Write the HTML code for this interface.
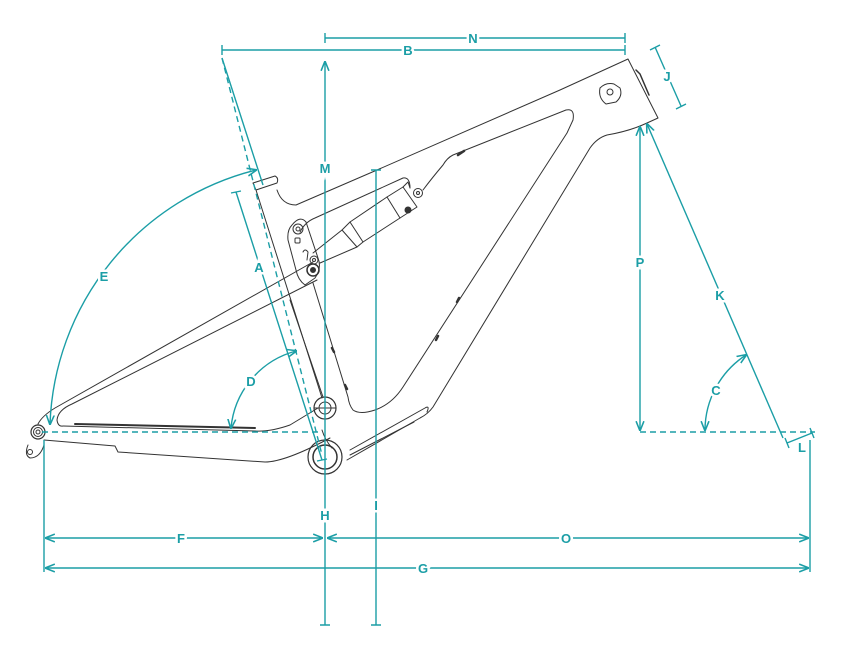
<!DOCTYPE html>
<html><head><meta charset="utf-8"><style>
html,body{margin:0;padding:0;background:#fff;width:850px;height:660px;overflow:hidden}
svg{display:block}
.t{font-family:"Liberation Sans Narrow","Liberation Sans",sans-serif;font-weight:bold;font-size:13px;fill:#1b9ea6;text-anchor:middle;stroke:#fff;stroke-width:5px;paint-order:stroke}
</style></head><body>
<svg width="850" height="660" viewBox="0 0 850 660" xmlns="http://www.w3.org/2000/svg">
<defs>
<marker id="ar" viewBox="0 0 10 10" refX="9" refY="5" markerWidth="7" markerHeight="7" orient="auto-start-reverse"><path d="M0,1 L10,5 L0,9" fill="none" stroke="#1b9ea6" stroke-width="1.6"/></marker>
</defs>
<g fill="none" stroke="#333" stroke-width="1" stroke-linejoin="round" stroke-linecap="round">
<path d="M277,190 Q282,205 296,205 L377,170 L560,90 L628,59 L658,118 L647,123 Q630,131 607,135 Q597,138 590,148 L433,407 Q428,414 420,418 L347,460"/>
<path d="M253,183 L275,176 Q279,178 277,183 L256,190 Z"/>
<path d="M423,190 Q432,178 443,165 Q447,158 453,155 L566,110 Q575,108 573,120 L567,133 L403,387 Q392,404 375,410 Q360,415 353,410 Q349,405 348,397 L313,283"/>
<!-- rocker upper line -->
<path d="M300,232 Q305,222 315,218 L403,178 Q410,177 410,188"/>
<path d="M256,190 L322,398"/>
<path d="M290,300 L323,397"/>
<path d="M332,448 Q325,440 322,430"/>
<path d="M427,412 Q430,405 425,408 L350,450"/>
<path d="M414,422 L350,455"/>
<!-- rocker link -->
<path d="M292,225 Q300,215 306,222 L318,258 Q322,268 315,278 L305,285 Q298,280 296,270 L288,240 Q287,230 292,225 Z"/>
<circle cx="298" cy="229" r="5"/><circle cx="298" cy="229" r="2"/>
<rect x="295" y="238" width="5" height="5" rx="1"/>
<circle cx="313" cy="270" r="6" stroke-width="1.5"/><circle cx="313" cy="270" r="2.5" fill="#333"/>
<circle cx="314" cy="260" r="4"/><circle cx="314" cy="260" r="1.5"/>
<path d="M303,252 Q305,248 308,252 L307,260"/>
<!-- shock -->
<path d="M342,230 L313,253"/>
<path d="M357,247 L320,263"/>
<path d="M342,230 L350,222 L363,242 L357,247 Z"/>
<path d="M350,222 L387,197 M363,242 L400,218"/>
<path d="M387,197 L403,187 L417,207 L400,218 Z"/>
<path d="M403,187 L408,182 L410,188"/>
<circle cx="418" cy="193" r="4.5"/><circle cx="418" cy="193" r="1.5"/>
<circle cx="408" cy="210" r="3" fill="#333"/>
<!-- seatstay -->
<path d="M313,262 L55,408 Q42,416 38,424"/>
<path d="M317,280 L72,404 Q58,410 57,420 Q58,427 63,426"/>
<!-- chainstay -->
<path d="M63,426 L255,431 Q270,432 290,425 L318,408"/>
<path d="M75,424 L255,428" stroke-width="2"/>
<path d="M44,440 L115,446 L118,452 L265,462 Q285,462 330,438"/>
<path d="M28,445 Q24,455 30,458 Q40,458 44,445"/>
<circle cx="30" cy="452" r="2.5"/>
<circle cx="38" cy="432" r="7" stroke-width="1.2"/><circle cx="38" cy="432" r="4.5"/><circle cx="38" cy="432" r="2"/>
<circle cx="325" cy="408" r="11" stroke-width="1.2"/><circle cx="325" cy="408" r="6"/><path d="M314,408 L336,408"/>
<circle cx="325" cy="457" r="17" stroke-width="1.2"/><circle cx="325" cy="457" r="12" stroke-width="1.5"/>
<path d="M600,88 Q606,82 614,84 L620,88 Q623,96 616,102 L606,104 Q598,98 600,88 Z"/>
<circle cx="610" cy="92" r="3"/>
<path d="M636,70 L640,74 L646,88 L649,95" stroke-width="1.5"/>
<path d="M332,348 L334,352 M345,385 L347,389 M436,340 L438,336 M457,302 L459,298 M458,155 L464,151" stroke-width="2.5"/>
</g>

<g fill="none" stroke="#1b9ea6" stroke-width="1.4">
<path d="M325,38 L625,38 M325,33 L325,43 M625,33 L625,43"/>
<path d="M222,50 L625,50 M222,45 L222,55 M625,45 L625,55"/>
<path d="M325,62 L325,625 M320,625 L330,625" marker-start="url(#ar)"/>
<path d="M376,170 L376,625 M371,170 L381,170 M371,625 L381,625"/>
<path d="M222,58 L263,185"/>
<path d="M222,58 L322,455" stroke-dasharray="6,4"/>
<path d="M236,192 L322,460 M231,193 L241,191 M317,461 L327,459"/>
<path d="M50,424 A272,272 0 0 1 256,170" marker-start="url(#ar)" marker-end="url(#ar)"/>
<path d="M231,428 A88,88 0 0 1 296,351" marker-start="url(#ar)" marker-end="url(#ar)"/>
<path d="M42,432 L320,432" stroke-dasharray="6,4"/>
<path d="M640,432 L815,432" stroke-dasharray="6,4"/>
<path d="M44,440 L44,572 M810,440 L810,572"/>
<path d="M46,538 L322,538" marker-start="url(#ar)" marker-end="url(#ar)"/>
<path d="M328,538 L808,538" marker-start="url(#ar)" marker-end="url(#ar)"/>
<path d="M46,568 L808,568" marker-start="url(#ar)" marker-end="url(#ar)"/>
<path d="M640,127 L640,430" marker-start="url(#ar)" marker-end="url(#ar)"/>
<path d="M647,124 L783,438" marker-start="url(#ar)"/>
<path d="M705,430 A90,90 0 0 1 746,355" marker-start="url(#ar)" marker-end="url(#ar)"/>
<path d="M787,443 L812,433 M785,438 L789,448 M810,428 L814,438"/>
<path d="M655,47 L681,106 M650,50 L660,45 M676,109 L686,104"/>
</g>

<text class="t" x="473" y="43">N</text>
<text class="t" x="408" y="55">B</text>
<text class="t" x="325" y="173">M</text>
<text class="t" x="325" y="520">H</text>
<text class="t" x="376" y="510">I</text>
<text class="t" x="259" y="272">A</text>
<text class="t" x="104" y="281">E</text>
<text class="t" x="251" y="386">D</text>
<text class="t" x="181" y="543">F</text>
<text class="t" x="566" y="543">O</text>
<text class="t" x="423" y="573">G</text>
<text class="t" x="640" y="267">P</text>
<text class="t" x="720" y="300">K</text>
<text class="t" x="716" y="395">C</text>
<text class="t" x="802" y="452">L</text>
<text class="t" x="667" y="81">J</text>
</svg>
</body></html>
